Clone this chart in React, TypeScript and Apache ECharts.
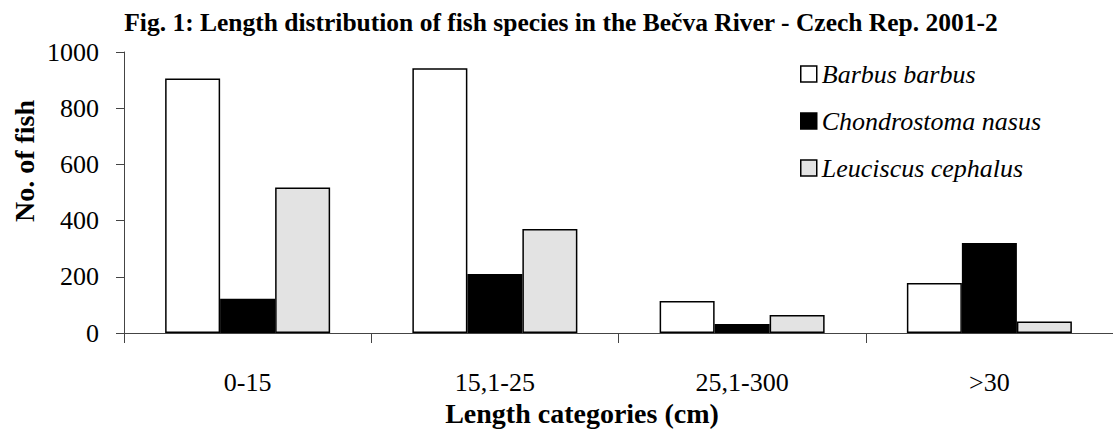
import React, { useEffect, useRef } from "react";
import * as echarts from "echarts";

const categories = ["0-15", "15,1-25", "25,1-300", ">30"];
const seriesNames = ["Barbus barbus", "Chondrostoma nasus", "Leuciscus cephalus"];
const barbus = [906, 942, 114, 178];
const chondrostoma = [122, 210, 32, 320];
const leuciscus = [518, 370, 64, 41];
const yTicks = { min: 0, max: 1000, interval: 200 };
const titleText = "Fig. 1: Length distribution of fish species in the Bečva River - Czech Rep. 2001-2";
const xName = "Length categories (cm)";
const yName = "No. of fish";

const SERIF = "Liberation Serif, serif";

export default function App() {
  const ref = useRef<HTMLDivElement>(null);
  useEffect(() => {
    if (!ref.current) return;
    const chart = echarts.init(ref.current, undefined, { renderer: "svg" });
    const fills = ["#ffffff", "#000000", "#e3e3e3"];
    const values = [barbus, chondrostoma, leuciscus];
    chart.setOption({
      animation: false,
      backgroundColor: "#ffffff",
      textStyle: { fontFamily: SERIF },
      grid: { left: 124, top: 52, width: 990, height: 281, containLabel: false },
      legend: {
        orient: "vertical",
        left: 795,
        top: 56,
        icon: "rect",
        itemWidth: 16,
        itemHeight: 16,
        itemGap: 21,
        data: seriesNames,
        formatter: (n: string) => n,
        textStyle: { fontFamily: SERIF, fontSize: 26, fontStyle: "italic", color: "#000" },
        itemStyle: { borderColor: "#000", borderWidth: 1.5 },
      },
      xAxis: {
        type: "category",
        data: categories,
        axisLine: { show: true, lineStyle: { color: "#444", width: 1 } },
        axisTick: { show: true, length: 10, lineStyle: { color: "#444", width: 1 } },
        axisLabel: {
          fontFamily: SERIF,
          fontSize: 26,
          color: "#000",
          margin: 36,
          lineHeight: 26,
          formatter: (v: string) => v,
        },
        splitLine: { show: false },
      },
      yAxis: {
        type: "value",
        min: yTicks.min,
        max: yTicks.max,
        interval: yTicks.interval,
        axisLine: { show: true, lineStyle: { color: "#444", width: 1 } },
        axisTick: { show: true, length: 8, lineStyle: { color: "#444", width: 1 } },
        axisLabel: {
          fontFamily: SERIF,
          fontSize: 26,
          color: "#000",
          margin: 25,
          formatter: (v: number) => String(v),
        },
        splitLine: { show: false },
      },
      series: seriesNames.map((name, i) => ({
        name,
        type: "bar",
        data: values[i],
        barWidth: 55,
        barGap: "0%",
        itemStyle: { color: fills[i], borderColor: "#000", borderWidth: 1.5 },
      })),
      graphic: [
        {
          type: "text",
          x: 561,
          y: 22,
          style: {
            text: titleText,
            fontFamily: SERIF,
            fontSize: 25.5,
            fontWeight: "bold",
            fill: "#000",
            align: "center",
            verticalAlign: "middle",
            textAlign: "center",
            textVerticalAlign: "middle",
          },
        },
        {
          type: "text",
          x: 582,
          y: 413,
          style: {
            text: xName,
            fontFamily: SERIF,
            fontSize: 28,
            fontWeight: "bold",
            fill: "#000",
            align: "center",
            verticalAlign: "middle",
            textAlign: "center",
            textVerticalAlign: "middle",
          },
        },
        {
          type: "text",
          x: 24,
          y: 161,
          rotation: Math.PI / 2,
          style: {
            text: yName,
            fontFamily: SERIF,
            fontSize: 28,
            fontWeight: "bold",
            fill: "#000",
            align: "center",
            verticalAlign: "middle",
            textAlign: "center",
            textVerticalAlign: "middle",
          },
        },
      ],
    });
    return () => chart.dispose();
  }, []);
  return (
    <div
      ref={ref}
      style={{ position: "absolute", left: 0, top: 0, width: 1113, height: 432 }}
    />
  );
}
